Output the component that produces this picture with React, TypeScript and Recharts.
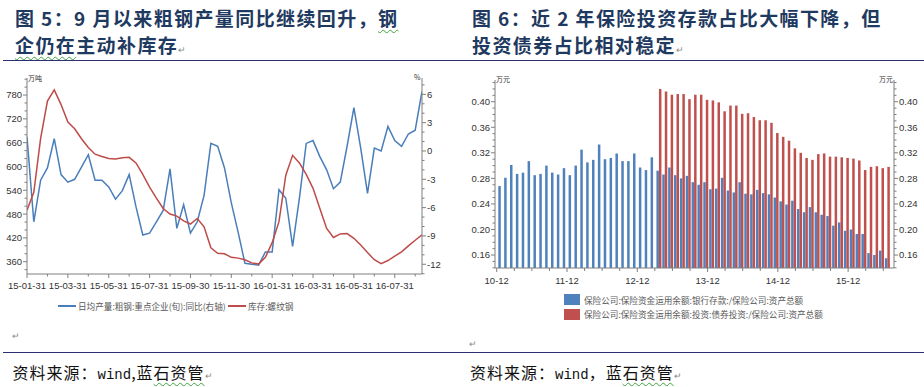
import React from 'react';
import { LineChart, Line, XAxis, YAxis, BarChart, Bar } from 'recharts';

// ---------- Figure 5: crude steel output YoY (right axis) & rebar inventory (left axis) ----------
const outputYoY = [
  1.5, -7.5, -3.1, -1.8, 1.3, -2.5, -3.3, -3.0, -1.7, -0.4,
  -3.1, -3.1, -3.8, -5.1, -4.2, -2.5, -5.9, -8.9, -8.7, -7.5,
  -6.3, -1.9, -8.2, -5.7, -8.7, -7.5, -4.7, 0.8, 0.5, -1.8,
  -5.5, -8.6, -11.9, -12.0, -12.1, -10.7, -10.7, -4.1, -5.0, -10.1,
  -5.0, 0.8, 1.1, -0.6, -2.0, -4.0, -3.3, 0.5, 4.6, 0.3,
  -4.5, 0.3, 0.0, 2.6, 1.1, 0.5, 1.8, 2.2, 6.3,
];
const rebarStock = [
  490, 535, 671, 765, 793, 756, 712, 695, 670, 648,
  631, 625, 620, 619, 622, 623, 609, 580, 548, 520,
  494, 480, 475, 463, 455, 469, 448, 395, 381, 380,
  371, 369, 365, 357, 354, 371, 408, 461, 578, 628,
  609, 580, 545, 494, 444, 421, 430, 431, 419, 402,
  383, 365, 355, 363, 374, 385, 400, 414, 428,
];
const lineXLabels = ['15-01-31', '15-03-31', '15-05-31', '15-07-31', '15-09-30', '15-11-30', '16-01-31', '16-03-31', '16-05-31', '16-07-31'];
const lineXTicks = [0, 3, 6, 9, 12, 15, 18, 21, 24, 27, 30, 33, 36, 39, 42, 45, 48, 51, 54, 57];
const leftTicks = [340, 360, 380, 400, 420, 440, 460, 480, 500, 520, 540, 560, 580, 600, 620, 640, 660, 680, 700, 720, 740, 760, 780, 800, 820];
const leftMajor = [360, 420, 480, 540, 600, 660, 720, 780];
const rightTicks = [-13, -12, -11, -10, -9, -8, -7, -6, -5, -4, -3, -2, -1, 0, 1, 2, 3, 4, 5, 6, 7];

// ---------- Figure 6: deposits / bonds share of insurers' total assets ----------
const months = [
  '10-12',
  '11-01', '11-02', '11-03', '11-04', '11-05', '11-06', '11-07', '11-08', '11-09', '11-10', '11-11', '11-12',
  '12-01', '12-02', '12-03', '12-04', '12-05', '12-06', '12-07', '12-08', '12-09', '12-10', '12-11', '12-12',
  '13-01', '13-02', '13-03', '13-04', '13-05', '13-06', '13-07', '13-08', '13-09', '13-10', '13-11', '13-12',
  '14-01', '14-02', '14-03', '14-04', '14-05', '14-06', '14-07', '14-08', '14-09', '14-10', '14-11', '14-12',
  '15-01', '15-02', '15-03', '15-04', '15-05', '15-06', '15-07', '15-08', '15-09', '15-10', '15-11', '15-12',
  '16-01', '16-02', '16-03', '16-04', '16-05', '16-06',
];
const depositShare = [
  0.268, 0.281, 0.301, 0.287, 0.289, 0.307, 0.285, 0.287, 0.300, 0.289,
  0.286, 0.296, 0.285, 0.300, 0.325, 0.305, 0.309, 0.333, 0.310, 0.312,
  0.319, 0.307, 0.307, 0.319, 0.297, 0.293, 0.313, 0.292, 0.286, 0.297,
  0.285, 0.280, 0.284, 0.274, 0.270, 0.274, 0.263, 0.264, 0.281, 0.261,
  0.258, 0.274, 0.256, 0.255, 0.262, 0.257, 0.255, 0.250, 0.244, 0.239,
  0.245, 0.232, 0.227, 0.235, 0.227, 0.223, 0.221, 0.206, 0.211, 0.198,
  0.200, 0.193, 0.193, 0.163, 0.160, 0.167, 0.155,
];
const bondShare = [
  null, null, null, null, null, null, null, null, null, null,
  null, null, null, null, null, null, null, null, null, null,
  null, null, null, null, null, null, null, 0.420, 0.416, 0.411,
  0.412, 0.412, 0.404, 0.411, 0.411, 0.403, 0.402, 0.399, 0.385, 0.394,
  0.394, 0.381, 0.382, 0.376, 0.371, 0.371, 0.367, 0.351, 0.345, 0.339,
  0.327, 0.320, 0.312, 0.309, 0.318, 0.319, 0.314, 0.314, 0.313, 0.312,
  0.311, 0.308, 0.293, 0.298, 0.299, 0.296, 0.298,
];
const barTicks = [0.14, 0.15, 0.16, 0.17, 0.18, 0.19, 0.20, 0.21, 0.22, 0.23, 0.24, 0.25, 0.26, 0.27, 0.28, 0.29, 0.30, 0.31, 0.32, 0.33, 0.34, 0.35, 0.36, 0.37, 0.38, 0.39, 0.40, 0.41, 0.42, 0.43];
const barMajor = [0.16, 0.20, 0.24, 0.28, 0.32, 0.36, 0.40];

const lineData = outputYoY.map((v, i) => ({ i, yoy: v, stock: rebarStock[i] }));
const barData = months.map((m, i) => ({ m, dep: depositShare[i], bond: bondShare[i] }));
const quarterTicks = months.filter((_, i) => i % 3 === 0);

const FONT = '"Liberation Sans", Arial, "Noto Sans CJK SC", sans-serif';
const CJK = '"Noto Sans CJK SC", "Noto Sans", sans-serif';
const AXIS = '#7f7f7f';
const TXT = '#333333';
const BLUE_LINE = '#4A7EBB';
const RED_LINE = '#BE4B48';
const BLUE_BAR = '#4F81BD';
const RED_BAR = '#C0504D';
const TITLE = '#1F3A60';
const RULE = '#2E2E72';

const makeYTick = (side: 'left' | 'right', isMajor: (v: number) => boolean, fmt: (v: number) => string) => (p: any) => {
  const { x, y, payload } = p;
  const v = payload.value as number;
  const major = isMajor(v);
  const d = side === 'left' ? -1 : 1;
  const len = major ? 4 : 2.5;
  return (
    <g>
      <line x1={x} x2={x + d * len} y1={y} y2={y} stroke={AXIS} strokeWidth={1} />
      {major ? (
        <text x={x + d * (len + 1)} y={y} dy="0.36em" textAnchor={side === 'left' ? 'end' : 'start'} fontFamily={FONT} fontSize={9.5} fill={TXT}>
          {fmt(v)}
        </text>
      ) : null}
    </g>
  );
};

const lineXTick = (p: any) => {
  const { x, y, payload } = p;
  const v = payload.value as number;
  const major = v % 6 === 0;
  return (
    <g>
      <line x1={x} x2={x} y1={y} y2={y + (major ? 4 : 2.5)} stroke={AXIS} />
      {major ? (
        <text x={x} y={y + 15} textAnchor="middle" fontFamily={FONT} fontSize={9.5} fill={TXT}>
          {lineXLabels[v / 6]}
        </text>
      ) : null}
    </g>
  );
};

const barXTick = (p: any) => {
  const { x, y, payload } = p;
  const v = payload.value as string;
  const major = v.endsWith('-12');
  const cx = x - 4.5;
  return (
    <g>
      <line x1={cx} x2={cx} y1={y} y2={y + (major ? 4 : 3)} stroke={AXIS} />
      {major ? (
        <text x={cx} y={y + 15.5} textAnchor="middle" fontFamily={FONT} fontSize={9.5} fill={TXT}>
          {v}
        </text>
      ) : null}
    </g>
  );
};

const leftYTick = makeYTick('left', (v) => leftMajor.includes(v), (v) => String(v));
const rightYTick = makeYTick('right', (v) => v % 3 === 0, (v) => String(v));
const barLTick = makeYTick('left', (v) => barMajor.some((m) => Math.abs(m - v) < 1e-6), (v) => v.toFixed(2));
const barRTick = makeYTick('right', (v) => barMajor.some((m) => Math.abs(m - v) < 1e-6), (v) => v.toFixed(2));

const ret = (extra: React.CSSProperties = {}) => (
  <span style={{ fontSize: 9, color: '#8a8a8a', fontWeight: 400, letterSpacing: 0, fontFamily: CJK, ...extra }}>↵</span>
);
const wavy: React.CSSProperties = {
  textDecoration: 'underline wavy #3fa33f',
  textDecorationThickness: '1px',
  textUnderlineOffset: '3px',
};

const abs = (s: React.CSSProperties): React.CSSProperties => ({ position: 'absolute', ...s });

export default function App() {
  const titleStyle: React.CSSProperties = {
    fontFamily: CJK,
    fontSize: 19,
    fontWeight: 700,
    color: TITLE,
    letterSpacing: 1.4,
    lineHeight: '27px',
    whiteSpace: 'nowrap',
  };
  const sourceStyle: React.CSSProperties = {
    fontFamily: CJK,
    fontSize: 16,
    color: '#111',
    letterSpacing: 1,
    lineHeight: '20px',
    whiteSpace: 'nowrap',
  };
  const legendText: React.CSSProperties = {
    fontFamily: CJK,
    fontSize: 8.6,
    color: '#595959',
    lineHeight: '12px',
    whiteSpace: 'nowrap',
  };
  const axisUnit: React.CSSProperties = {
    fontFamily: CJK,
    fontSize: 7,
    color: '#333',
    lineHeight: '8px',
    whiteSpace: 'nowrap',
  };
  return (
    <div style={abs({ left: 0, top: 0, width: 924, height: 387, background: '#fff', overflow: 'hidden' })}>
      {/* titles */}
      <div style={abs({ left: 15, top: 3.5, ...titleStyle })}>
        <div>
          图 5：9 月以来粗钢产量同比继续回升，<span style={wavy}>钢</span>
        </div>
        <div>
          <span style={wavy}>企仍在</span>主动补库存{ret()}
        </div>
      </div>
      <div style={abs({ left: 472, top: 3.5, ...titleStyle })}>
        <div>图 6：近 2 年保险投资存款占比大幅下降，但</div>
        <div>投资债券占比相对稳定{ret()}</div>
      </div>
      <div style={abs({ left: 3, top: 59.5, width: 921, height: 1.6, background: RULE })} />

      {/* Figure 5 */}
      <div style={abs({ left: 0, top: 60 })}>
        <LineChart width={462} height={240} data={lineData} margin={{ top: 18, right: 0, bottom: 0, left: 0 }}>
          <XAxis
            dataKey="i"
            type="number"
            domain={[0, 58]}
            allowDataOverflow
            ticks={lineXTicks}
            interval={0}
            tickSize={0}
            tickMargin={0}
            tickLine={false}
            axisLine={{ stroke: AXIS }}
            height={26}
            tick={lineXTick}
          />
          <YAxis
            yAxisId="l"
            orientation="left"
            width={27}
            domain={[329, 823]}
            allowDataOverflow
            ticks={leftTicks}
            interval={0}
            tickSize={0}
            tickMargin={0}
            tickLine={false}
            axisLine={{ stroke: AXIS }}
            tick={leftYTick}
          />
          <YAxis
            yAxisId="r"
            orientation="right"
            width={40}
            domain={[-13.03, 7.73]}
            allowDataOverflow
            ticks={rightTicks}
            interval={0}
            tickSize={0}
            tickMargin={0}
            tickLine={false}
            axisLine={{ stroke: AXIS }}
            tick={rightYTick}
          />
          <Line yAxisId="r" type="linear" dataKey="yoy" stroke={BLUE_LINE} strokeWidth={1.5} dot={false} isAnimationActive={false} />
          <Line yAxisId="l" type="linear" dataKey="stock" stroke={RED_LINE} strokeWidth={1.5} dot={false} isAnimationActive={false} />
        </LineChart>
      </div>
      <div style={abs({ left: 28, top: 73.5, ...axisUnit })}>万吨</div>
      <div style={abs({ left: 414, top: 73, ...axisUnit })}>%</div>
      <div style={abs({ left: 58, top: 304.8, width: 18, height: 1.8, background: BLUE_LINE })} />
      <div style={abs({ left: 78, top: 299.5, ...legendText })}>日均产量:粗钢:重点企业(旬):同比(右轴)</div>
      <div style={abs({ left: 228, top: 304.8, width: 18, height: 1.8, background: RED_LINE })} />
      <div style={abs({ left: 248, top: 299.5, ...legendText })}>库存:螺纹钢</div>
      <div style={abs({ left: 12, top: 325 })}>{ret()}</div>

      {/* Figure 6 */}
      <div style={abs({ left: 462, top: 60 })}>
        <BarChart width={462} height={240} data={barData} margin={{ top: 20, right: 0, bottom: 0, left: 0 }} barGap={0} barCategoryGap={0}>
          <XAxis
            dataKey="m"
            ticks={quarterTicks}
            interval={0}
            padding={{ left: 3.3, right: 3.3 }}
            height={32}
            tickSize={0}
            tickMargin={0}
            tickLine={false}
            axisLine={{ stroke: AXIS }}
            tick={barXTick}
          />
          <YAxis
            yAxisId="l"
            orientation="left"
            width={33}
            domain={[0.1397, 0.434]}
            allowDataOverflow
            ticks={barTicks}
            interval={0}
            tickSize={0}
            tickMargin={0}
            tickLine={false}
            axisLine={{ stroke: AXIS }}
            tick={barLTick}
          />
          <YAxis
            yAxisId="r"
            orientation="right"
            width={30}
            domain={[0.1397, 0.434]}
            allowDataOverflow
            ticks={barTicks}
            interval={0}
            tickSize={0}
            tickMargin={0}
            tickLine={false}
            axisLine={{ stroke: AXIS }}
            tick={barRTick}
          />
          <Bar yAxisId="l" dataKey="dep" fill={BLUE_BAR} barSize={2.5} isAnimationActive={false} />
          <Bar yAxisId="l" dataKey="bond" fill={RED_BAR} barSize={2.5} isAnimationActive={false} />
        </BarChart>
      </div>
      <div style={abs({ left: 496, top: 75, ...axisUnit })}>万元</div>
      <div style={abs({ left: 879, top: 75, ...axisUnit })}>万元</div>
      <div style={abs({ left: 564, top: 294, width: 16, height: 11, background: BLUE_BAR })} />
      <div style={abs({ left: 584, top: 293.5, ...legendText })}>保险公司:保险资金运用余额:银行存款:/保险公司:资产总额</div>
      <div style={abs({ left: 564, top: 308.5, width: 16, height: 11, background: RED_BAR })} />
      <div style={abs({ left: 584, top: 308.3, ...legendText })}>保险公司:保险资金运用余额:投资:债券投资:/保险公司:资产总额</div>
      <div style={abs({ left: 469, top: 333 })}>{ret()}</div>

      {/* sources */}
      <div style={abs({ left: 3, top: 351.5, width: 921, height: 1.6, background: RULE })} />
      <div style={abs({ left: 12.5, top: 361.5, ...sourceStyle })}>
        资料来源：<span style={{ fontFamily: '"Liberation Mono", monospace', fontSize: 14, letterSpacing: 0 }}>wind</span>,蓝<span style={wavy}>石资管</span>{ret()}
      </div>
      <div style={abs({ left: 470, top: 361.5, ...sourceStyle })}>
        资料来源：<span style={{ fontFamily: '"Liberation Mono", monospace', fontSize: 14, letterSpacing: 0 }}>wind</span>，蓝<span style={wavy}>石资管</span>{ret()}
      </div>
    </div>
  );
}
